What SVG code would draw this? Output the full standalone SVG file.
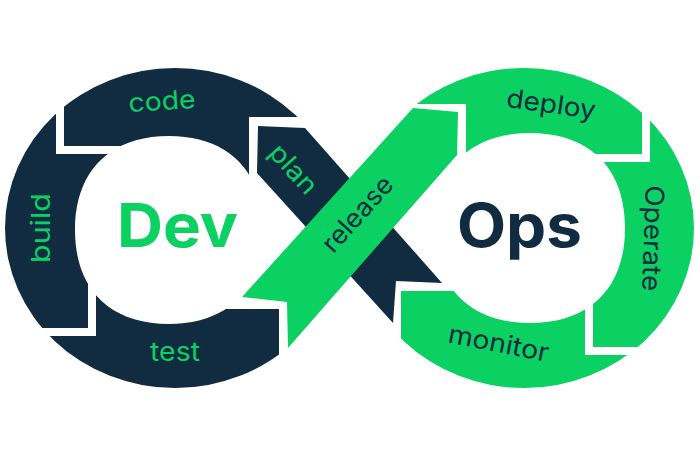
<svg xmlns="http://www.w3.org/2000/svg" width="700" height="450" viewBox="0 0 700 450">
<style>
.navy{fill:#112b41}
.green{fill:#0ad162}
.lbl{font-family:Inter,"Noto Sans","Liberation Sans",sans-serif;font-size:26px;font-weight:400;text-anchor:middle}
.big{font-family:Inter,"Noto Sans","Liberation Sans",sans-serif;font-size:60px;font-weight:700;text-anchor:middle}
.tg{fill:#0ad162}
.tn{fill:#112b41}
</style>
<defs>
<path id="ringL" fill-rule="evenodd" d="M5,228 A170,160 0 1,0 345,228 A170,160 0 1,0 5,228 Z M263,230 C263,289.2 228.2,324 169,324 C109.8,324 75,289.2 75,230 C75,170.8 109.8,136 169,136 C228.2,136 263,170.8 263,230 Z"/>
<path id="ringR" fill-rule="evenodd" d="M354,228 A170,160 0 1,0 694,228 A170,160 0 1,0 354,228 Z M625,228 C625,287.9 589.9,323 530,323 C470.1,323 435,287.9 435,228 C435,168.1 470.1,133 530,133 C589.9,133 625,168.1 625,228 Z"/>
<clipPath id="cCode"><polygon points="64,0 300,0 300,117 249,117 249,200 135,200 135,146 64,146"/></clipPath>
<clipPath id="cBuild"><polygon points="0,0 56,0 56,154 130,154 130,260 88,260 88,328 0,328"/></clipPath>
<clipPath id="cTest"><polygon points="0,336 96,336 96,250 222,250 222,309 279,309 279,450 0,450"/></clipPath>
<clipPath id="cDeploy"><polygon points="398,0 642,0 642,154 580,154 580,200 466,200 466,104 398,104"/></clipPath>
<clipPath id="cOperate"><polygon points="650,0 700,0 700,347 593,347 593,162 650,162"/></clipPath>
<clipPath id="cMonitor"><polygon points="401,291 470,291 470,250 585,250 585,355 700,355 700,450 401,450"/></clipPath>
</defs>
<rect width="700" height="450" fill="#fff"/>
<g id="connectors"/>
<g id="code">
<use href="#ringL" class="navy" clip-path="url(#cCode)"/>
<text class="lbl tg" x="162.5" y="110" transform="rotate(-3.5 162.5 110)" textLength="67" lengthAdjust="spacingAndGlyphs">code</text>
</g>
<g id="build">
<use href="#ringL" class="navy" clip-path="url(#cBuild)"/>
<text class="lbl tg" transform="translate(50,228) rotate(-90)" textLength="70" lengthAdjust="spacingAndGlyphs">build</text>
</g>
<g id="test">
<use href="#ringL" class="navy" clip-path="url(#cTest)"/>
<text class="lbl tg" x="175" y="361" textLength="50" lengthAdjust="spacingAndGlyphs">test</text>
</g>
<g id="plan">
<polygon class="navy" points="258,126 305,128 442,283 396,281 393,323 257,173"/>
<text class="lbl tg" transform="translate(287,175) rotate(48)" textLength="58" lengthAdjust="spacingAndGlyphs">plan</text>
</g>
<g id="deploy">
<use href="#ringR" class="green" clip-path="url(#cDeploy)"/>
<text class="lbl tn" transform="translate(550,113) rotate(8)" textLength="90" lengthAdjust="spacingAndGlyphs">deploy</text>
</g>
<g id="operate">
<use href="#ringR" class="green" clip-path="url(#cOperate)"/>
<text class="lbl tn" transform="translate(644,238) rotate(92)" textLength="106" lengthAdjust="spacingAndGlyphs">Operate</text>
</g>
<g id="monitor">
<use href="#ringR" class="green" clip-path="url(#cMonitor)"/>
<text class="lbl tn" transform="translate(497,352) rotate(11)" textLength="102" lengthAdjust="spacingAndGlyphs">monitor</text>
</g>
<g id="release">
<polygon class="green" points="242,297 287,302 288,348 457,155 458,112 413,108"/>
<text class="lbl tn" transform="translate(364,220) rotate(-48)" textLength="92" lengthAdjust="spacingAndGlyphs">release</text>
</g>
<g id="dev">
<text class="big tg" x="177.5" y="247" textLength="121" lengthAdjust="spacingAndGlyphs">Dev</text>
</g>
<g id="ops">
<text class="big tn" x="519.5" y="247" textLength="125" lengthAdjust="spacingAndGlyphs">Ops</text>
</g>
</svg>
